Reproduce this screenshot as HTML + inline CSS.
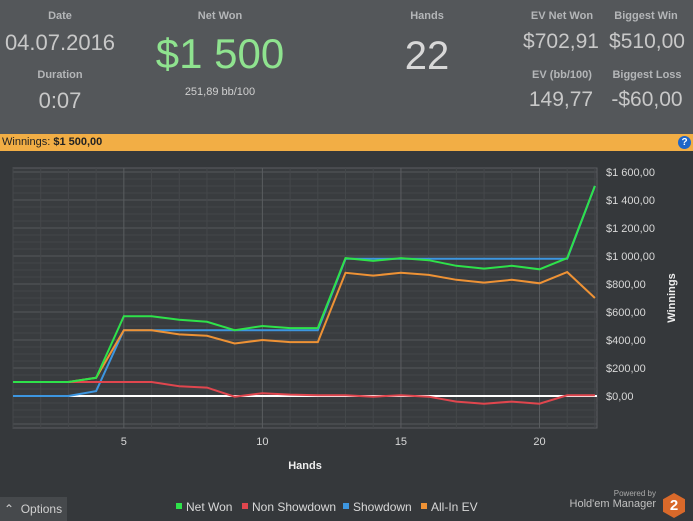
<!DOCTYPE html>
<html><head><meta charset="utf-8"><style>
*{margin:0;padding:0;box-sizing:border-box}
body{width:693px;height:521px;overflow:hidden;background:#35383b;font-family:"Liberation Sans",sans-serif;position:relative}
.hdr{position:absolute;left:0;top:0;width:693px;height:134px;background:#54575a}
.t{position:absolute;color:#c8c8c8;text-align:center;white-space:nowrap}
.lbl{font-size:11px;font-weight:bold;color:#b4b6b8}
.bar{position:absolute;left:0;top:134px;width:693px;height:17px;background:#f2ae45;font-size:11px;color:#222;line-height:17px;padding-left:2px}
.help{position:absolute;right:2px;top:2px;width:13px;height:13px;border-radius:50%;background:#1f66c8;color:#fff;font-size:10px;font-weight:bold;text-align:center;line-height:13px}
</style></head><body>
<div class="hdr">
<div class="t lbl" style="left:20px;top:10px;width:80px">Date</div>
<div class="t" style="left:0;top:30px;width:120px;font-size:22px">04.07.2016</div>
<div class="t lbl" style="left:20px;top:69px;width:80px">Duration</div>
<div class="t" style="left:20px;top:88px;width:80px;font-size:22px">0:07</div>
<div class="t lbl" style="left:170px;top:10px;width:100px">Net Won</div>
<div class="t" style="left:140px;top:30px;width:160px;font-size:42px;color:#8fe38f">$1 500</div>
<div class="t" style="left:160px;top:86px;width:120px;font-size:11px;color:#d0d0d0">251,89 bb/100</div>
<div class="t lbl" style="left:377px;top:10px;width:100px">Hands</div>
<div class="t" style="left:377px;top:34px;width:100px;font-size:40px;color:#d8d8d8">22</div>
<div class="t lbl" style="left:520px;top:10px;width:84px">EV Net Won</div>
<div class="t" style="left:516px;top:30px;width:90px;font-size:21px">$702,91</div>
<div class="t lbl" style="left:604px;top:10px;width:84px">Biggest Win</div>
<div class="t" style="left:602px;top:30px;width:90px;font-size:21px">$510,00</div>
<div class="t lbl" style="left:520px;top:69px;width:84px">EV (bb/100)</div>
<div class="t" style="left:516px;top:88px;width:90px;font-size:21px">149,77</div>
<div class="t lbl" style="left:602px;top:69px;width:90px">Biggest Loss</div>
<div class="t" style="left:602px;top:88px;width:90px;font-size:21px">-$60,00</div>
</div>
<div class="bar">Winnings: <b>$1 500,00</b><div class="help">?</div></div>
<svg id="chart" width="693" height="521" style="position:absolute;left:0;top:0"></svg>
<div style="position:absolute;left:0;top:497px;width:67px;height:24px;background:#46494c;color:#d0d0d0;font-size:12px;line-height:24px;padding-left:4px">&#8963;&nbsp; Options</div>
<div style="position:absolute;left:560px;top:489px;width:96px;text-align:right;font-size:8px;color:#aaa">Powered by</div>
<div style="position:absolute;left:540px;top:498px;width:116px;text-align:right;font-size:11px;color:#c0c0c0">Hold'em Manager</div>
<div style="position:absolute;left:663px;top:493px;width:22px;height:25px;background:#d9692a;clip-path:polygon(50% 0,100% 25%,100% 75%,50% 100%,0 75%,0 25%);color:#fff;font-weight:bold;font-size:15px;text-align:center;line-height:25px">2</div>
<script>
const hands=[1,2,3,4,5,6,7,8,9,10,11,12,13,14,15,16,17,18,19,20,21,22];
const netWon=[100,100,100,130,570,570,545,530,470,500,485,485,985,965,985,970,930,910,930,905,985,1500];
const nonShowdown=[100,100,100,100,100,100,70,60,-5,20,10,5,5,-5,5,-5,-40,-55,-40,-55,5,5];
const showdown=[0,0,0,35,470,470,470,470,470,470,470,470,980,980,980,980,980,980,980,980,980,1500];
const allInEV=[100,100,100,130,470,470,440,430,375,400,385,385,880,860,880,865,830,810,830,805,885,700];
const yTicks=[0,200,400,600,800,1000,1200,1400,1600];
const yTickLabels=["$0,00","$200,00","$400,00","$600,00","$800,00","$1 000,00","$1 200,00","$1 400,00","$1 600,00"];
const xTicks=[5,10,15,20];
const NS="http://www.w3.org/2000/svg";
const svg=document.getElementById('chart');
const L=13,R=597,T=168,B=428;
const xs=h=>13+(h-1)*27.71;
const ys=v=>396-v*0.14;
function el(t,a,p){const e=document.createElementNS(NS,t);for(const k in a)e.setAttribute(k,a[k]);(p||svg).appendChild(e);return e;}
const bg=el('rect',{x:L,y:T,width:R-L,height:B-T,fill:'#393c3f',stroke:'#5a5d60'});


for(let v=-200;v<=1700;v+=50){const y=ys(v);if(y<T||y>B)continue;const g=el('line',{x1:L,x2:R,y1:y,y2:y,stroke:v%200===0?'#55585b':'#434649','stroke-width':1});}
for(let h=1;h<=22;h++){const x=xs(h);const g=el('line',{x1:x,x2:x,y1:T,y2:B,stroke:h%5===0?'#5a5d60':'#45484b'});}
const zl=el('line',{x1:L,x2:R,y1:ys(0),y2:ys(0),stroke:'#ffffff','stroke-width':2});


yTicks.forEach((v,i)=>{const t=el('text',{x:606,y:ys(v)+4,fill:'#d8d8d8','font-size':11});t.textContent=yTickLabels[i];});
xTicks.forEach(h=>{const t=el('text',{x:xs(h),y:445,fill:'#d8d8d8','font-size':11,'text-anchor':'middle'});t.textContent=h;});
const xt=el('text',{x:305,y:469,fill:'#eee','font-size':11,'font-weight':'bold','text-anchor':'middle'});xt.textContent='Hands';


const yt=el('text',{x:0,y:0,fill:'#eee','font-size':11,'font-weight':'bold','text-anchor':'middle',transform:'translate(675,298) rotate(-90)'});yt.textContent='Winnings';


const series=[[showdown,'#3d96e0','showdown-line'],[nonShowdown,'#e0464e','non-showdown-line'],[allInEV,'#ee9235','all-in-ev-line'],[netWon,'#2ee24a','net-won-line']];
series.forEach(([d,c,n])=>{const p=el('polyline',{points:d.map((v,i)=>xs(hands[i])+','+ys(v)).join(' '),fill:'none',stroke:c,'stroke-width':2});});
const leg=[['Net Won','#2ee24a',176],['Non Showdown','#e0464e',242],['Showdown','#3d96e0',343],['All-In EV','#ee9235',421]];
leg.forEach(([n,c,x])=>{const g=el('g',{});el('rect',{x:x,y:503,width:6,height:6,fill:c},g);const t=el('text',{x:x+10,y:511,fill:'#d8d8d8','font-size':12},g);t.textContent=n;});
</script>
</body></html>
